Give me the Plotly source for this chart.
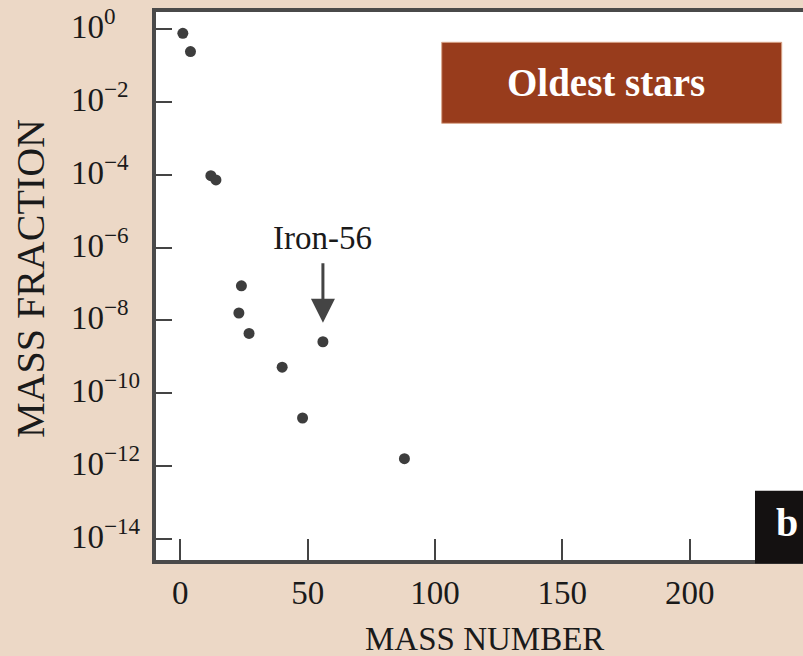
import math
import plotly.graph_objects as go

# Isotope abundances in the oldest stars
mass_number = [1, 4, 12, 14, 23, 24, 27, 40, 48, 56, 88]
mass_fraction = [0.76, 0.24, 9.4e-5, 7.2e-5, 1.6e-8, 8.9e-8, 4.4e-9, 5.2e-10, 2.1e-11, 2.6e-9, 1.6e-12]

x_ticks = [0, 50, 100, 150, 200]
y_exponents = [0, -2, -4, -6, -8, -10, -12, -14]

iron_mass = 56
iron_fraction = mass_fraction[mass_number.index(iron_mass)]

BG = "#ECD8C6"
AXIS = "#4a4a4a"
SERIF = "Liberation Serif, Times New Roman, serif"
W, H = 803, 656
L, R, T, B = 156, 0, 12, 96

fig = go.Figure()
fig.add_trace(go.Scatter(
    x=mass_number, y=mass_fraction, mode="markers",
    marker=dict(size=11, color="#3d3d3d", line=dict(width=0)),
    hoverinfo="skip", showlegend=False,
))

annotations = []
# y tick labels, left aligned
for e in y_exponents:
    sup = str(e) if e >= 0 else "\u2212" + str(-e)
    annotations.append(dict(
        x=-0.1345, xref="paper", xanchor="left",
        y=e, yref="y", yanchor="middle", yshift=5,
        text=f"10<sup>{sup}</sup>", showarrow=False,
        font=dict(family=SERIF, size=33, color="#1a1a1a"),
    ))

# Axis titles
annotations.append(dict(
    x=-0.1932, xref="paper", y=0.5146, yref="paper",
    text="MASS FRACTION", textangle=-90, showarrow=False,
    xanchor="center", yanchor="middle",
    font=dict(family=SERIF, size=40, color="#1a1a1a"),
))
annotations.append(dict(
    x=0.507, xref="paper", y=-0.1440, yref="paper",
    text="MASS NUMBER", showarrow=False,
    xanchor="center", yanchor="middle",
    font=dict(family=SERIF, size=33, color="#1a1a1a"),
))

# Iron-56 callout
annotations.append(dict(
    x=iron_mass, y=math.log10(iron_fraction), xref="x", yref="y",
    text="Iron-56", showarrow=True, arrowhead=2, arrowsize=1.6,
    arrowwidth=3, arrowcolor="#444444", ax=0, ay=-104,
    standoff=19, startstandoff=6,
    font=dict(family=SERIF, size=33, color="#1a1a1a"),
))

# Panel labels
annotations.append(dict(
    x=0.6956, xref="paper", y=0.8708, yref="paper",
    text="<b>Oldest stars</b>", showarrow=False,
    xanchor="center", yanchor="middle",
    font=dict(family=SERIF, size=39, color="white"),
))
annotations.append(dict(
    x=0.9753, xref="paper", y=0.0693, yref="paper",
    text="<b>b</b>", showarrow=False,
    xanchor="center", yanchor="middle",
    font=dict(family=SERIF, size=40, color="white"),
))

shapes = [
    dict(type="rect", xref="paper", yref="paper",
         x0=0.4416, x1=0.9671, y0=0.7969, y1=0.9447,
         fillcolor="#983C1C", line=dict(color="#d9a58a", width=1), layer="above"),
    dict(type="rect", xref="paper", yref="paper",
         x0=0.9258, x1=1.05, y0=-0.0065, y1=0.1265,
         fillcolor="#141111", line=dict(width=0), layer="above"),
]

fig.update_layout(
    width=W, height=H,
    margin=dict(l=L, r=R, t=T, b=B, pad=0),
    paper_bgcolor=BG, plot_bgcolor="white",
    annotations=annotations, shapes=shapes,
    showlegend=False,
)
fig.update_xaxes(
    range=[-9.54, 244.5], tickmode="array", tickvals=x_ticks,
    ticks="inside", ticklen=21, tickwidth=1.5, tickcolor="#444444",
    showline=True, linewidth=4, linecolor=AXIS, mirror=True,
    showgrid=False, zeroline=False,
    tickfont=dict(family=SERIF, size=33, color="#1a1a1a"),
    ticklabelstandoff=0,
)
fig.update_yaxes(
    type="log", range=[-14.576, 0.467], tickmode="array",
    tickvals=[10.0 ** e for e in y_exponents],
    ticks="inside", ticklen=16, tickwidth=1.5, tickcolor="#444444",
    showline=True, linewidth=4, linecolor=AXIS,
    showgrid=False, zeroline=False, showticklabels=False,
)

fig.write_html("out.html")
